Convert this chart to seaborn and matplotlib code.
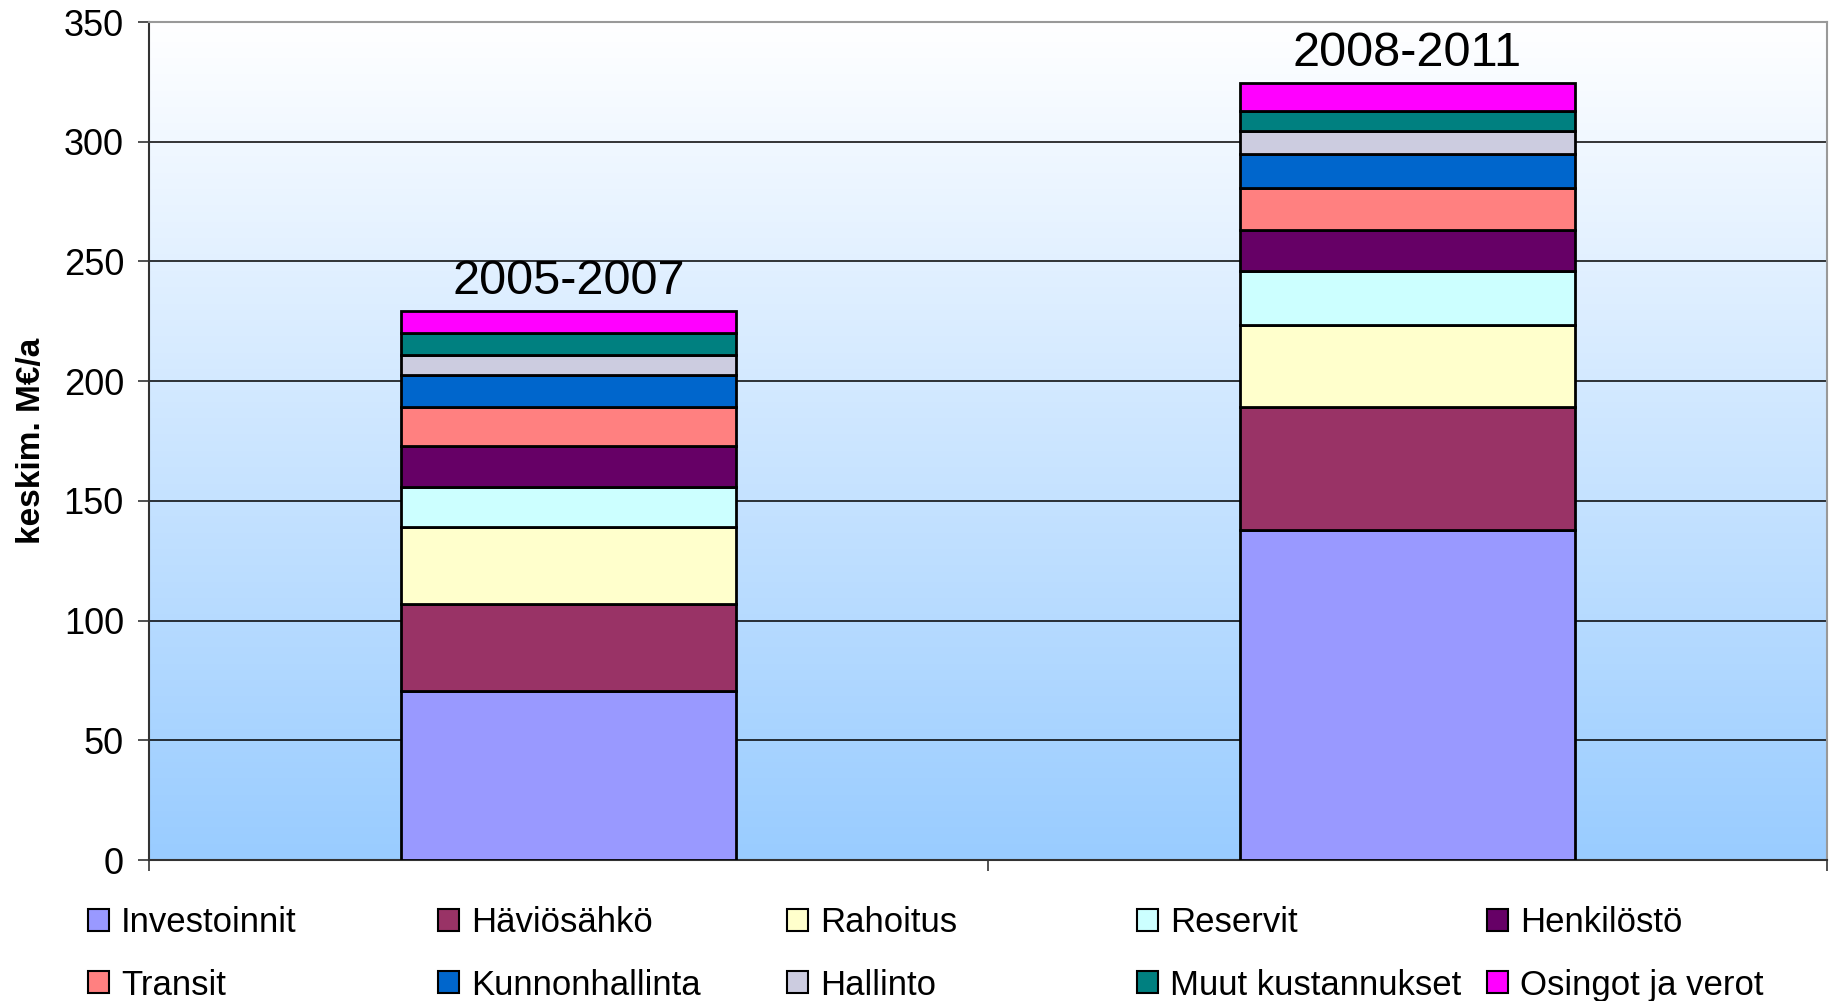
import numpy as np
import pandas as pd
import seaborn as sns
import matplotlib.pyplot as plt
from matplotlib.colors import LinearSegmentedColormap
from matplotlib.patches import Patch

periods = ["2005-2007", "2008-2011"]

components = ["Investoinnit", "Häviösähkö", "Rahoitus", "Reservit", "Henkilöstö",
              "Transit", "Kunnonhallinta", "Hallinto", "Muut kustannukset", "Osingot ja verot"]

investoinnit = [70.7, 137.9]
haviosahko = [36.3, 51.1]
rahoitus = [31.9, 34.4]
reservit = [16.7, 22.6]
henkilosto = [17.2, 17.1]
transit = [16.2, 17.7]
kunnonhallinta = [13.6, 14.2]
hallinto = [8.4, 9.4]
muut = [9.0, 8.3]
osingot = [9.3, 11.8]

colors = ["#9999FF", "#993366", "#FFFFCC", "#CCFFFF", "#660066",
          "#FF8080", "#0066CC", "#CCCCE0", "#008080", "#FF00FF"]

yticks = [0, 50, 100, 150, 200, 250, 300, 350]

df = pd.DataFrame({"period": periods,
                   "Investoinnit": investoinnit,
                   "Häviösähkö": haviosahko,
                   "Rahoitus": rahoitus,
                   "Reservit": reservit,
                   "Henkilöstö": henkilosto,
                   "Transit": transit,
                   "Kunnonhallinta": kunnonhallinta,
                   "Hallinto": hallinto,
                   "Muut kustannukset": muut,
                   "Osingot ja verot": osingot})

sns.set_style("white")
plt.rcParams["font.family"] = ["Liberation Sans", "DejaVu Sans"]
plt.rcParams["text.color"] = "black"
plt.rcParams["axes.labelcolor"] = "black"
plt.rcParams["ytick.labelcolor"] = "black"

fig = plt.figure(figsize=(18.43, 10.01), dpi=100)
ax = fig.add_axes([149 / 1843, 141 / 1001, 1678 / 1843, 838 / 1001])

# gradient background: white at top, light blue at bottom
cmap = LinearSegmentedColormap.from_list("bg", ["#FFFFFF", "#99CCFF"])
grad = np.linspace(0, 1, 256).reshape(-1, 1)
ax.imshow(grad, extent=[-0.5, 1.5, 0, 350], aspect="auto", cmap=cmap, zorder=0)

for y in yticks[1:]:
    ax.axhline(y, color="black", lw=1.1, zorder=1)

bottom = np.zeros(len(periods))
for comp, col in zip(components, colors):
    sns.barplot(data=df, x="period", y=comp, bottom=bottom, color=col, saturation=1,
                width=0.4, edgecolor="black", linewidth=2, errorbar=None, ax=ax, zorder=3)
    bottom = bottom + df[comp].values

for i, p in enumerate(periods):
    ax.text(i, bottom[i] + 3, p, ha="center", va="bottom", fontsize=35, color="black")

ax.set_xlim(-0.5, 1.5)
ax.set_ylim(0, 350)
ax.set_xticks([-0.5, 0.5, 1.5])
ax.set_xticklabels([])
ax.set_yticks(yticks)
ax.tick_params(axis="y", labelsize=26, length=8, width=1.2, color="#333333", pad=10, left=True)
ax.tick_params(axis="x", length=8, width=1.2, color="#333333", bottom=True)
ax.set_xlabel("")
ax.set_ylabel("keskim. M€/a", fontsize=24, fontweight="bold", labelpad=12)

for s in ["left", "bottom"]:
    ax.spines[s].set_color("#333333")
    ax.spines[s].set_linewidth(1.5)
for s in ["top", "right"]:
    ax.spines[s].set_color("#999999")
    ax.spines[s].set_linewidth(1.5)
    ax.spines[s].set_visible(True)

# legend: five columns, two rows, evenly spaced like the original
handles = [Patch(facecolor=c, edgecolor="black", linewidth=1.5) for c in colors]
col_x = [88, 438, 787, 1137, 1487]
for j, x in enumerate(col_x):
    idx = [j, j + 5]
    fig.legend([handles[k] for k in idx], [components[k] for k in idx],
               loc="upper left", bbox_to_anchor=(x / 1843, 95 / 1001),
               frameon=False, fontsize=25, handlelength=0.6, handleheight=0.6,
               handletextpad=0.35, borderpad=0, borderaxespad=0, labelspacing=0.85)

fig.savefig("out.png", dpi=100)
